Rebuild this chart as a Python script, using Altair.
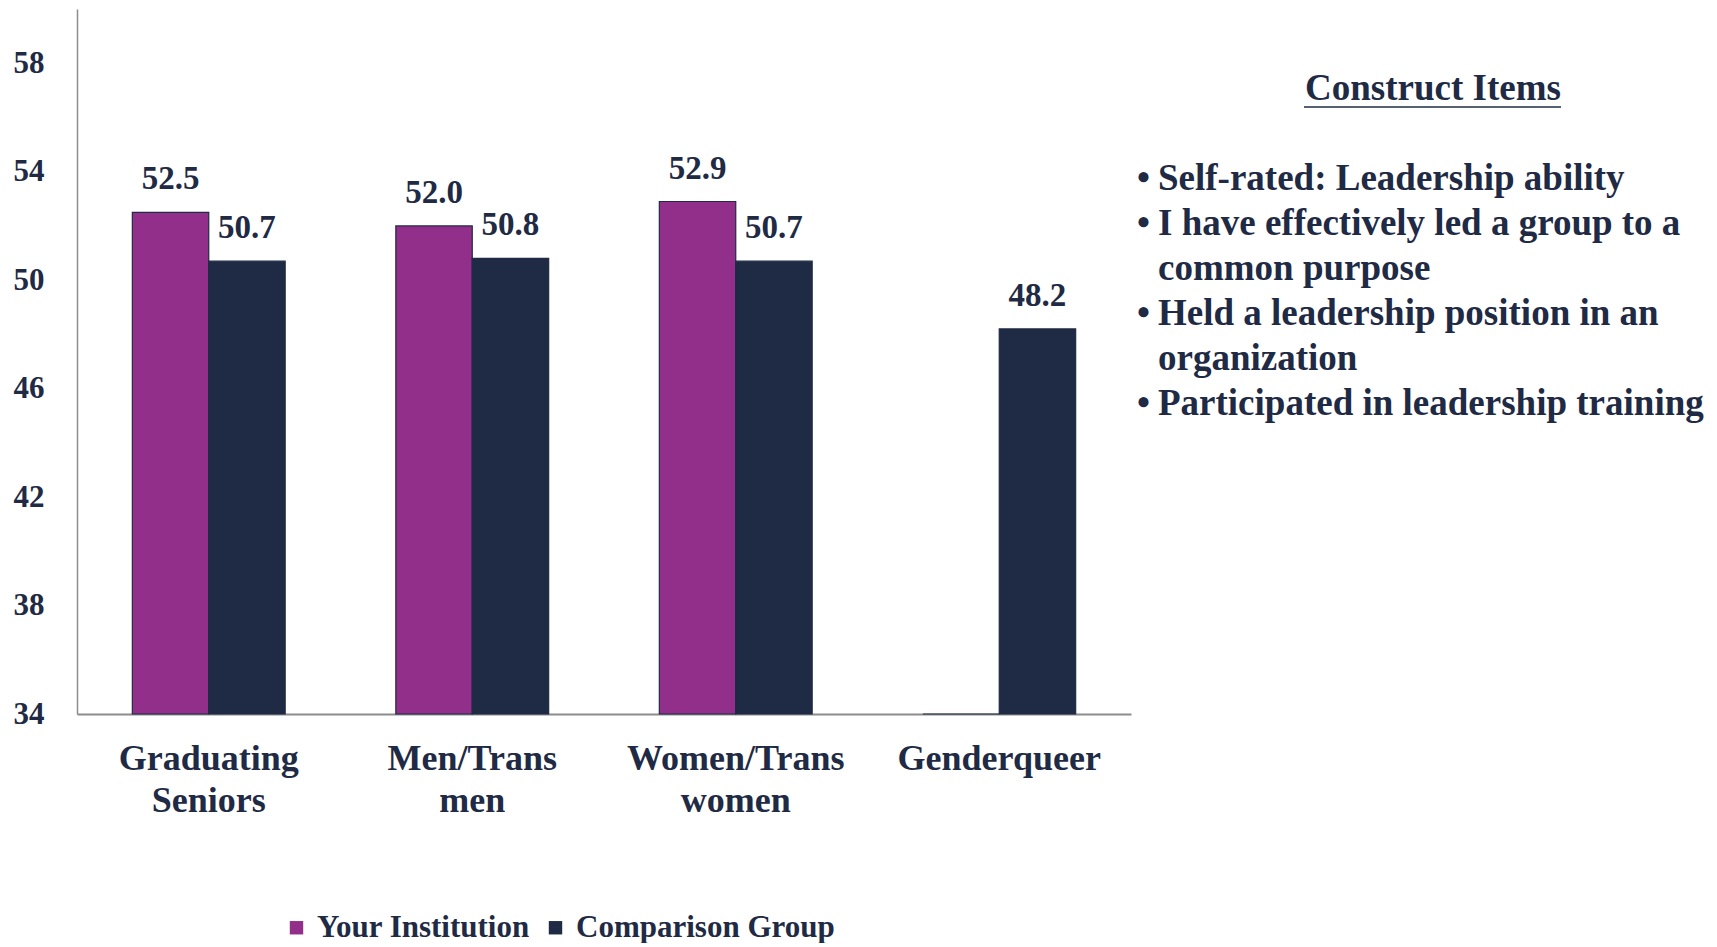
import altair as alt
import pandas as pd

categories = ["Graduating Seniors", "Men/Trans men", "Women/Trans women", "Genderqueer"]
institution = [52.5, 52.0, 52.9, 34.0]
comparison = [50.7, 50.8, 50.7, 48.2]
series = ["Your Institution", "Comparison Group"]
colors = ["#922F8A", "#1F2A44"]
y_ticks = [34, 38, 42, 46, 50, 54, 58]

panel_title = "Construct Items"
panel_lines = [
    "Self-rated: Leadership ability",
    "I have effectively led a group to a",
    "common purpose",
    "Held a leadership position in an",
    "organization",
    "Participated in leadership training",
]
panel_bullet = [True, True, False, True, False, True]

TEXT = "#1F2A44"
FONT = "Liberation Serif"

rows = []
for i, c in enumerate(categories):
    rows.append({"cat": c, "series": series[0], "value": institution[i], "order": 0})
    rows.append({"cat": c, "series": series[1], "value": comparison[i], "order": 1})
df = pd.DataFrame(rows)
df["label"] = df["value"].map(lambda v: f"{v:.1f}")

panel_df = pd.DataFrame({
    "idx": list(range(len(panel_lines))),
    "line": panel_lines,
    "bullet": ["•" if b else "" for b in panel_bullet],
})

x_enc = alt.X("cat:N", sort=categories, title=None,
              scale=alt.Scale(paddingInner=0.42, paddingOuter=0.21),
              axis=alt.Axis(labelExpr="split(datum.label, ' ')", labelFontSize=36,
                            labelFont=FONT, labelFontWeight="bold", labelColor=TEXT,
                            labelLineHeight=42, labelPadding=27, ticks=False,
                            labelLimit=0,
                            domainColor="#8C8C8C", domainWidth=2, labelAngle=0))
xoff = alt.XOffset("series:N", sort=series, scale=alt.Scale(paddingInner=0, paddingOuter=0))
y_enc = alt.Y("value:Q", title=None,
              scale=alt.Scale(domain=[34, 60], zero=False, nice=False),
              axis=alt.Axis(values=y_ticks, grid=False, ticks=False, labelFontSize=31,
                            labelFont=FONT, labelFontWeight="bold", labelColor=TEXT,
                            labelPadding=33, domainColor="#8C8C8C", domainWidth=1.5))

bars = alt.Chart(df).mark_bar(stroke=TEXT, strokeWidth=1.2).encode(
    x=x_enc,
    xOffset=xoff,
    y=y_enc,
    y2=alt.datum(34),
    color=alt.Color("series:N", sort=series,
                    scale=alt.Scale(domain=series, range=colors),
                    legend=alt.Legend(title=None, orient="none", direction="horizontal",
                                      legendX=204, legendY=903, symbolType="square",
                                      symbolSize=180, symbolStrokeWidth=0,
                                      labelFont=FONT, labelFontWeight="bold",
                                      labelFontSize=31, labelColor=TEXT, labelLimit=0,
                                      labelOffset=5, columnPadding=10, padding=0)),
)

labels = alt.Chart(df).transform_filter("datum.value > 34").mark_text(
    font=FONT, fontWeight="bold", fontSize=33, color=TEXT, baseline="middle", dy=-33
).encode(
    x=alt.X("cat:N", sort=categories),
    xOffset=alt.XOffset("series:N", sort=series),
    y=alt.Y("value:Q"),
    text="label:N",
)

chart_part = alt.layer(bars, labels)

title_df = pd.DataFrame({"t": [panel_title]})
title_txt = alt.Chart(title_df).mark_text(
    font=FONT, fontWeight="bold", fontSize=37, color=TEXT, align="center", baseline="middle"
).encode(x=alt.value(1356), y=alt.value(80), text="t:N")
underline = alt.Chart(title_df).mark_rule(color=TEXT, strokeWidth=1.5).encode(
    x=alt.value(1227), x2=alt.value(1484), y=alt.value(98)
)

py = alt.Y("idx:Q", scale=alt.Scale(domain=[0, 5], range=[170, 395]), axis=None)
panel_text = alt.Chart(panel_df).mark_text(
    font=FONT, fontWeight="bold", fontSize=37, color=TEXT, align="left", baseline="middle"
).encode(x=alt.value(1081), y=py, text="line:N")
panel_bul = alt.Chart(panel_df).mark_text(
    font=FONT, fontWeight="bold", fontSize=37, color=TEXT, align="left", baseline="middle"
).encode(x=alt.value(1060), y=py, text="bullet:N")

panel = alt.layer(title_txt, underline, panel_text, panel_bul)

chart = alt.layer(chart_part, panel).resolve_scale(y="independent").properties(
    width=1054, height=705, background="white",
    padding={"left": 5, "top": 1, "right": 5, "bottom": 0},
).configure_view(stroke=None, strokeWidth=0)

chart.save("out.html", embed_options={"renderer": "svg", "actions": False})
